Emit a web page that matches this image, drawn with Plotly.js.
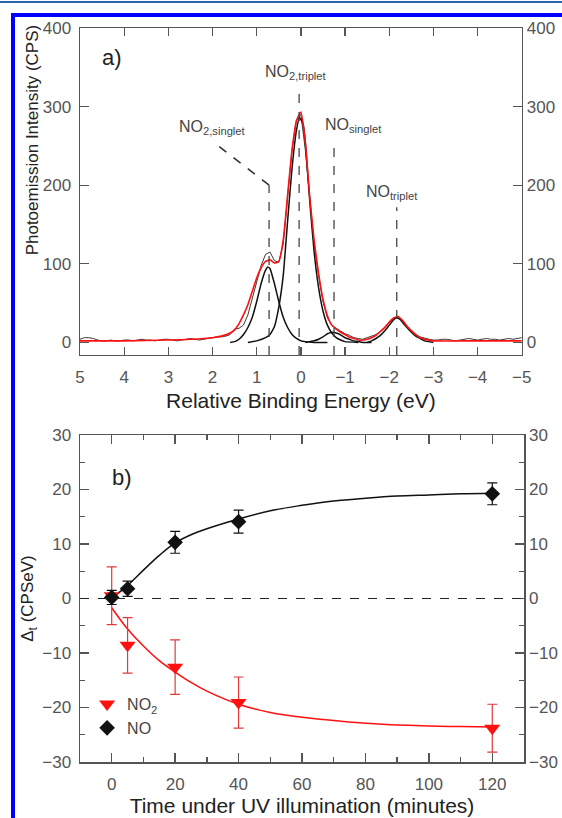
<!DOCTYPE html>
<html>
<head>
<meta charset="utf-8">
<script src="https://cdn.plot.ly/plotly-3.0.1.min.js"></script>
<style>
  html, body { margin:0; padding:0; background:#fff; }
  #wrap { position:relative; width:562px; height:818px; overflow:hidden; }
  #chart { position:absolute; left:0; top:0; width:562px; height:818px; }
  #topline { position:absolute; left:0; top:1px; width:562px; height:2px; background:#2a64b0; pointer-events:none; }
  #frame { position:absolute; left:11px; top:13px; width:700px; height:900px; border-top:4px solid #0000ff; border-left:4px solid #0000ff; pointer-events:none; }
</style>
</head>
<body>
<div id="wrap">
  <div id="chart"></div>
  <div id="topline"></div>
  <div id="frame"></div>
</div>
<script>
// ---------- Panel a: photoemission spectrum ----------
const dataE = [5.0,4.9,4.8,4.7,4.6,4.5,4.4,4.3,4.2,4.1,4.0,3.9,3.8,3.7,3.6,3.5,3.4,3.3,3.2,3.1,3.0,2.9,2.8,2.7,2.6,2.5,2.4,2.3,2.2,2.1,2.0,
  1.9,1.8,1.7,1.6,1.5,1.4,1.3,1.2,1.1,1.0,0.9,0.8,0.7,0.6,0.5,0.4,0.3,0.2,0.1,0.0,-0.1,-0.2,-0.3,-0.4,-0.5,-0.6,-0.7,-0.8,-0.9,-1.0,
  -1.1,-1.2,-1.3,-1.4,-1.5,-1.6,-1.7,-1.8,-1.9,-2.0,-2.1,-2.2,-2.3,-2.4,-2.5,-2.6,-2.7,-2.8,-2.9,-3.0,
  -3.1,-3.2,-3.3,-3.4,-3.5,-3.6,-3.7,-3.8,-3.9,-4.0,-4.1,-4.2,-4.3,-4.4,-4.5,-4.6,-4.7,-4.8,-4.9,-5.0];
const dataI = [4,6,6,5,3,2,2,3,2,2,3,3,2,3,4,3,3,2,3,4,4,3,2,3,4,5,4,3,4,5,6,
  7,7,8,10,17,18,22,35,55,78,98,112,115,104,102,125,185,245,283,290,245,180,125,85,52,31,22,18,14,11,
  9,6,5,4,6,8,10,14,20,26,31,32,27,21,15,10,7,5,4,3,
  3,4,4,3,2,3,4,5,4,3,4,5,4,4,3,4,5,4,5,6];

const fitE = [5.0,4.0,3.0,2.5,2.0,1.8,1.6,1.5,1.4,1.3,1.2,1.1,1.0,0.9,0.8,0.7,0.6,0.5,0.4,0.3,0.2,0.1,0.0,-0.1,-0.2,-0.3,-0.4,-0.5,-0.6,-0.7,-0.8,-0.9,-1.0,
  -1.1,-1.2,-1.3,-1.4,-1.5,-1.6,-1.7,-1.8,-1.9,-2.0,-2.1,-2.2,-2.3,-2.4,-2.5,-2.6,-2.7,-2.8,-2.9,-3.0,-4.0,-5.0];
const fitI = [2,2,3,4,6,8,12,16,24,35,48,65,82,95,103,105,101,103,130,188,245,282,293,255,185,130,88,55,34,22,17,13,10,
  7,5,3,3,4,6,9,14,19,26,31,33,28,21,15,10,6,4,3,2,2,2];

const no2SingE = [1.6,1.5,1.4,1.3,1.2,1.1,1.0,0.9,0.8,0.75,0.7,0.6,0.5,0.4,0.3,0.2,0.1,0.0,-0.1,-0.3,-0.6];
const no2SingI = [0,1,4,10,19,32,52,75,92,96,94,75,52,32,19,10,5,2,1,0,0];

const no2TripE = [1.2,1.0,0.8,0.7,0.6,0.5,0.4,0.3,0.2,0.1,0.03,-0.05,-0.1,-0.2,-0.3,-0.4,-0.5,-0.6,-0.7,-0.8,-0.9,-1.0,-1.3];
const no2TripI = [0,2,6,10,20,45,85,155,222,270,286,278,255,180,115,70,40,22,12,6,3,1,0];

const noSingE = [-0.1,-0.2,-0.3,-0.4,-0.5,-0.6,-0.73,-0.85,-1.0,-1.1,-1.2,-1.3,-1.4,-1.6];
const noSingI = [0,1,2,4,7,11,13,11,6,4,2,1,0,0];

const noTripE = [-1.5,-1.6,-1.7,-1.8,-1.9,-2.0,-2.1,-2.17,-2.25,-2.35,-2.5,-2.6,-2.7,-2.8,-2.9,-3.0];
const noTripI = [0,2,5,9,15,22,29,31,29,22,13,8,5,2,1,0];

const peakNames = ['NO<sub>2,singlet</sub>','NO<sub>2,triplet</sub>','NO<sub>singlet</sub>','NO<sub>triplet</sub>'];
const peakPos = [0.72, 0.04, -0.75, -2.17];
const peakLineTop = [200, 321, 255, 172];
const labelE = [2.01, 0.10, -1.19, -2.07];
const labelI = [273, 344, 276, 191];
const singletLeaderEnd = [1.87, 250];

// ---------- Panel b: kinetics ----------
const t = [0, 5, 20, 40, 120];
const noVal = [0.2, 1.8, 10.3, 14.1, 19.2];
const noErr = [1.3, 1.4, 2.0, 2.1, 2.0];
const no2Val = [0.5, -8.6, -12.6, -19.1, -23.8];
const no2Err = [5.3, 5.1, 5.0, 4.7, 4.4];
const fitT = [0,5,10,15,20,25,30,40,50,60,70,80,90,100,110,120];
const noFit = [0,2.4,5.2,7.9,10.2,11.7,12.8,14.6,16.1,17.1,17.9,18.4,18.8,19.0,19.2,19.3];
const no2Fit = [-1.7,-5.6,-8.7,-11.4,-13.5,-15.4,-17.0,-19.4,-20.9,-21.8,-22.4,-22.9,-23.2,-23.4,-23.5,-23.6];

const RED = '#ff1010';
const BLK = '#111111';
const TICKC = '#555555';
const FONT = 'Arial, "Liberation Sans", sans-serif';
const compLine = {color:BLK, width:1.5, shape:'spline', smoothing:0.4};

const traces = [
  {x:dataE, y:dataI, xaxis:'x', yaxis:'y', mode:'lines', line:{color:'#3a3a3a', width:1}, showlegend:false, hoverinfo:'skip'},
  {x:no2SingE, y:no2SingI, xaxis:'x', yaxis:'y', mode:'lines', line:compLine, showlegend:false, hoverinfo:'skip'},
  {x:no2TripE, y:no2TripI, xaxis:'x', yaxis:'y', mode:'lines', line:compLine, showlegend:false, hoverinfo:'skip'},
  {x:noSingE, y:noSingI, xaxis:'x', yaxis:'y', mode:'lines', line:compLine, showlegend:false, hoverinfo:'skip'},
  {x:noTripE, y:noTripI, xaxis:'x', yaxis:'y', mode:'lines', line:compLine, showlegend:false, hoverinfo:'skip'},
  {x:fitE, y:fitI, xaxis:'x', yaxis:'y', mode:'lines', line:{color:RED, width:1.6, shape:'spline', smoothing:0.5}, showlegend:false, hoverinfo:'skip'},
  // invisible carrier so the right-hand axis of panel a is drawn
  {x:fitE, y:fitI, xaxis:'x', yaxis:'y3', mode:'lines', line:{width:0, color:'rgba(0,0,0,0)'}, opacity:0, showlegend:false, hoverinfo:'skip'},
  // panel b
  {x:fitT, y:noFit, xaxis:'x2', yaxis:'y2', mode:'lines', line:{color:BLK, width:1.5, shape:'spline'}, showlegend:false, hoverinfo:'skip'},
  {x:fitT, y:no2Fit, xaxis:'x2', yaxis:'y2', mode:'lines', line:{color:RED, width:1.5, shape:'spline'}, showlegend:false, hoverinfo:'skip'},
  {x:fitT, y:noFit, xaxis:'x2', yaxis:'y4', mode:'lines', line:{width:0, color:'rgba(0,0,0,0)'}, opacity:0, showlegend:false, hoverinfo:'skip'},
  {x:t, y:no2Val, xaxis:'x2', yaxis:'y2', mode:'markers', name:'NO<sub>2</sub>',
   marker:{symbol:'triangle-down', size:14, color:RED},
   error_y:{type:'data', array:no2Err, visible:true, color:'#e03a3a', thickness:1.2, width:5}},
  {x:t, y:noVal, xaxis:'x2', yaxis:'y2', mode:'markers', name:'NO',
   marker:{symbol:'diamond', size:12, color:BLK},
   error_y:{type:'data', array:noErr, visible:true, color:BLK, thickness:1.2, width:5}}
];

const shapes = [];
for (let i = 0; i < peakPos.length; i++) {
  shapes.push({type:'line', xref:'x', yref:'y', x0:peakPos[i], x1:peakPos[i], y0:-16, y1:peakLineTop[i],
    line:{color:'#444', width:1.3, dash:'dash'}});
}
shapes.push({type:'line', xref:'x', yref:'y', x0:peakPos[0], y0:peakLineTop[0], x1:singletLeaderEnd[0], y1:singletLeaderEnd[1],
  line:{color:'#333', width:1.6, dash:'dash'}});
shapes.push({type:'line', xref:'x2 domain', yref:'y2', x0:0, x1:1, y0:0, y1:0, line:{color:'#222', width:1.2, dash:'dash'}});

const annotations = [];
for (let i = 0; i < peakNames.length; i++) {
  annotations.push({xref:'x', yref:'y', x:labelE[i], y:labelI[i], text:peakNames[i], showarrow:false,
    font:{family:FONT, size:16, color:'#444'}});
}
annotations.push({xref:'x domain', yref:'y domain', x:0.045, y:0.954, text:'a)', showarrow:false, font:{family:FONT, size:22, color:'#222'}});
annotations.push({xref:'x2 domain', yref:'y2 domain', x:0.068, y:0.914, text:'b)', showarrow:false, font:{family:FONT, size:22, color:'#222'}});
// panel a y title (sits above the axis centre in the original)
annotations.push({xref:'paper', yref:'paper', x:-0.108, y:0.847, xanchor:'center', yanchor:'middle', textangle:-90,
  text:'Photoemission Intensity (CPS)', showarrow:false, font:{family:FONT, size:17, color:'#222'}});

const axBase = {showgrid:false, zeroline:false, showline:true, linecolor:'#555', linewidth:1.5,
  ticks:'inside', tickcolor:'#555', tickwidth:1.3, tickfont:{family:FONT, size:17, color:TICKC}};
const rightBase = {showgrid:false, zeroline:false, showline:false, ticks:'', tickfont:{family:FONT, size:17, color:TICKC}};

const layout = {
  width:562, height:818,
  margin:{l:80, r:38, t:28, b:56, pad:0},
  paper_bgcolor:'#fff', plot_bgcolor:'#fff',
  font:{family:FONT, color:'#444'},
  showlegend:true,
  legend:{x:0.016, y:0.102, xanchor:'left', yanchor:'top', bgcolor:'rgba(0,0,0,0)', font:{family:FONT, size:16, color:'#444'}, tracegroupgap:0},
  xaxis:Object.assign({}, axBase, {domain:[0,0.995], anchor:'y', range:[5,-5], tick0:0, dtick:1, ticklen:8, mirror:'ticks',
    ticklabelstandoff:6,
    title:{text:'Relative Binding Energy (eV)', font:{family:FONT, size:21, color:'#222'}, standoff:7}}),
  yaxis:Object.assign({}, axBase, {domain:[0.5545,1], anchor:'x', range:[-16,400], tick0:0, dtick:100, ticklen:9, mirror:'ticks',
    ticklabelstandoff:4}),
  yaxis3:Object.assign({}, rightBase, {overlaying:'y', side:'right', anchor:'x', range:[-16,400], tick0:0, dtick:100, ticklabelstandoff:4}),
  xaxis2:Object.assign({}, axBase, {domain:[0,1], anchor:'y2', range:[-10,130], tick0:0, dtick:20, ticklen:9, mirror:'ticks',
    minor:{dtick:10, ticklen:5, ticks:'inside', tickcolor:'#555'},
    ticklabelstandoff:6,
    title:{text:'Time under UV illumination (minutes)', font:{family:FONT, size:21, color:'#222'}, standoff:4}}),
  yaxis2:Object.assign({}, axBase, {domain:[0,0.4455], anchor:'x2', range:[-30,30], tick0:0, dtick:10, ticklen:9, mirror:'ticks',
    minor:{dtick:5, ticklen:5, ticks:'inside', tickcolor:'#555'},
    ticklabelstandoff:4,
    title:{text:'Δ<sub>t</sub> (CPSeV)', font:{family:FONT, size:17, color:'#222'}, standoff:4}}),
  yaxis4:Object.assign({}, rightBase, {overlaying:'y2', side:'right', anchor:'x2', range:[-30,30], tick0:0, dtick:10, ticklabelstandoff:4}),
  shapes:shapes,
  annotations:annotations
};

Plotly.newPlot('chart', traces, layout, {staticPlot:true, displayModeBar:false});
</script>
</body>
</html>
